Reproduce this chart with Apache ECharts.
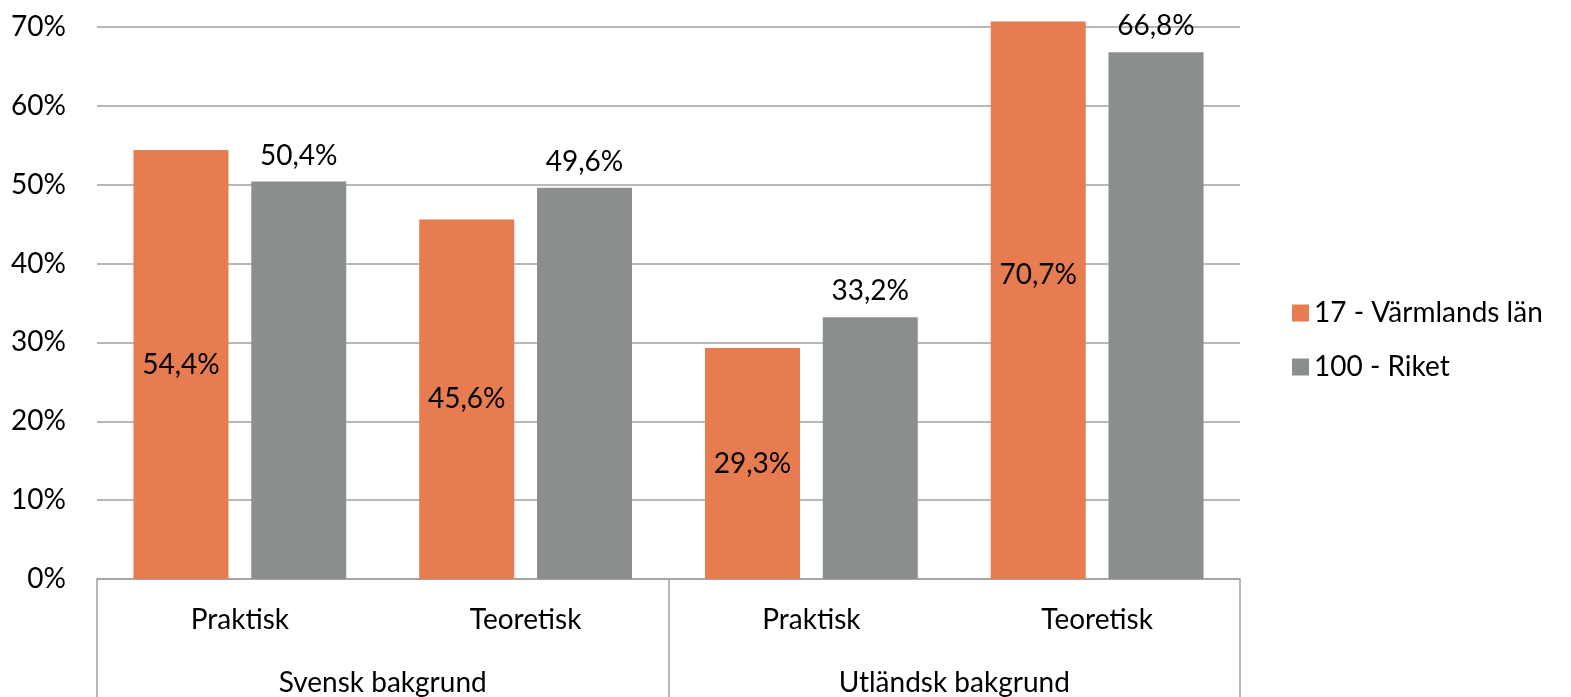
<!DOCTYPE html>
<html><head><meta charset="utf-8">
<script src="https://cdn.jsdelivr.net/npm/echarts@6/dist/echarts.min.js"></script>
<style>html,body{margin:0;padding:0;background:#fff}#c{width:1571px;height:697px}</style>
</head><body><div id="c"></div>
<script>
const categories = ['Praktisk', 'Teoretisk', 'Praktisk', 'Teoretisk'];
const groups = ['Svensk bakgrund', 'Utländsk bakgrund'];
const seriesNames = ['17 - Värmlands län', '100 - Riket'];
const varmland = [54.4, 45.6, 29.3, 70.7];
const riket = [50.4, 49.6, 33.2, 66.8];
const yTicks = [0, 10, 20, 30, 40, 50, 60, 70];

const FONT = 'Lato';
const FS = 28;
const fmt = v => String(v.toFixed(1)).replace('.', ',') + '%';
const chart = echarts.init(document.getElementById('c'), null, {renderer: 'canvas'});
chart.setOption({
  animation: false,
  textStyle: {fontFamily: FONT},
  grid: {left: 97, right: 331, top: 27, bottom: 118},
  legend: {
    orient: 'vertical', left: 1287, top: 294, itemWidth: 17, itemHeight: 17, itemGap: 26,
    icon: 'rect', textStyle: {fontFamily: FONT, fontSize: FS, color: '#000'},
    data: seriesNames
  },
  xAxis: [{
    type: 'category', data: categories, position: 'bottom',
    axisLine: {show: true, lineStyle: {color: '#a0a0a0', width: 1.5}},
    axisTick: {show: false},
    axisLabel: {fontFamily: FONT, fontSize: FS, color: '#000', margin: 27, interval: 0}
  }, {
    type: 'category', data: groups, position: 'bottom',
    axisLine: {show: false},
    axisTick: {show: true, length: 118, interval: 0, lineStyle: {color: '#a0a0a0', width: 1.5}},
    axisLabel: {fontFamily: FONT, fontSize: FS, color: '#000', margin: 90, interval: 0}
  }],
  yAxis: {
    type: 'value', min: yTicks[0], max: yTicks[yTicks.length - 1], interval: 10,
    axisLine: {show: false}, axisTick: {show: false},
    axisLabel: {formatter: '{value}%', fontFamily: FONT, fontSize: FS, color: '#000', margin: 31},
    splitLine: {lineStyle: {color: '#a0a0a0', width: 1.5}}
  },
  series: [{
    name: seriesNames[0], type: 'bar', xAxisIndex: 0, barWidth: 95, barGap: '24%', clip: false,
    itemStyle: {color: '#E67C50'},
    label: {show: true, position: 'inside', color: '#000', fontFamily: FONT, fontSize: FS, formatter: p => fmt(p.value)},
    data: varmland.map((v, i) => i === 3 ? {value: v, label: {offset: [0, -25]}} : v)
  }, {
    name: seriesNames[1], type: 'bar', xAxisIndex: 0, barWidth: 95, clip: false,
    itemStyle: {color: '#8A8F8C'},
    label: {show: true, position: 'top', distance: 12, color: '#000', fontFamily: FONT, fontSize: FS, formatter: p => fmt(p.value)},
    data: riket
  }]
});
</script></body></html>
